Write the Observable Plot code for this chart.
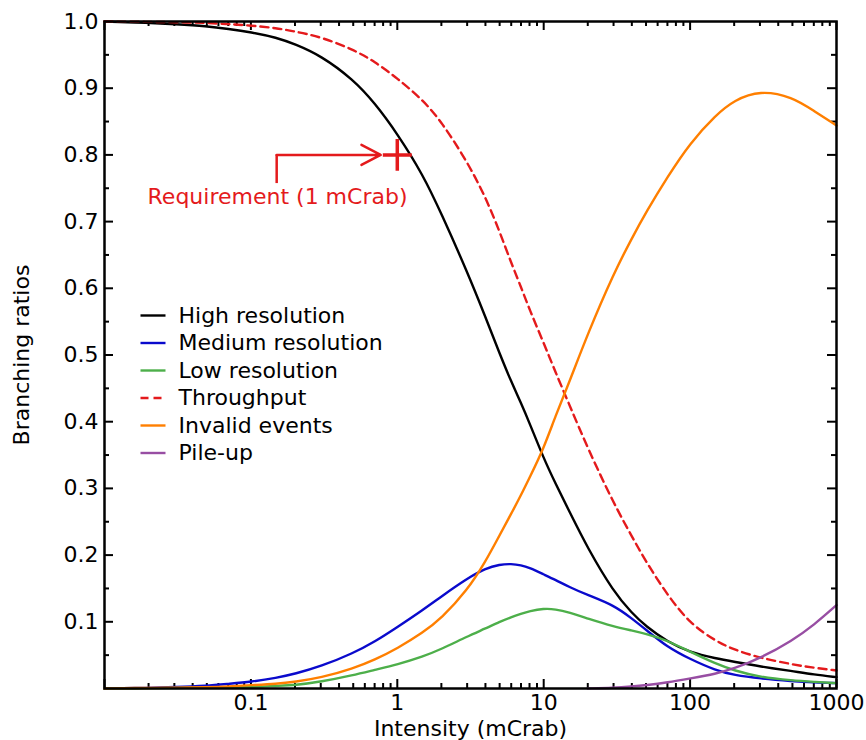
<!DOCTYPE html>
<html>
<head>
<meta charset="utf-8">
<script src="https://cdn.jsdelivr.net/npm/d3@7"></script>
<script src="https://cdn.jsdelivr.net/npm/@observablehq/plot@0.6"></script>
<style>
  body { margin: 0; background: #fff; }
  #chart svg { display: block; }
</style>
</head>
<body>
<div id="chart"></div>
<script>
// ---------------- data ----------------
const intensity = [0.01, 0.02, 0.03, 0.05, 0.07, 0.1, 0.15, 0.2, 0.3, 0.5, 0.7, 1, 1.5, 2, 3, 4, 5, 6, 7, 8,
  10, 12, 15, 20, 30, 40, 50, 70, 100, 150, 200, 300, 500, 700, 1000];

const highRes = [1.0, 0.998, 0.996, 0.993, 0.989, 0.984, 0.976, 0.966, 0.949, 0.913, 0.878, 0.832, 0.77, 0.712,
  0.625, 0.557, 0.502, 0.46, 0.428, 0.398, 0.345, 0.308, 0.265, 0.21, 0.145, 0.113, 0.093, 0.07, 0.054, 0.045,
  0.04, 0.033, 0.026, 0.021, 0.017];

const medRes = [0, 0.001, 0.002, 0.004, 0.007, 0.01, 0.016, 0.022, 0.033, 0.053, 0.07, 0.092, 0.118, 0.138,
  0.165, 0.18, 0.186, 0.187, 0.185, 0.181, 0.171, 0.163, 0.152, 0.14, 0.125, 0.105, 0.088, 0.062, 0.044,
  0.027, 0.02, 0.015, 0.011, 0.009, 0.008];

const lowRes = [0, 0, 0.001, 0.001, 0.002, 0.002, 0.004, 0.005, 0.01, 0.02, 0.028, 0.036, 0.048, 0.059,
  0.078, 0.09, 0.1, 0.107, 0.112, 0.116, 0.12, 0.119, 0.114, 0.105, 0.093, 0.087, 0.082, 0.072, 0.055,
  0.037, 0.027, 0.017, 0.012, 0.01, 0.008];

const throughput = [1.0, 0.9995, 0.999, 0.998, 0.996, 0.994, 0.99, 0.985, 0.977, 0.958, 0.94, 0.915, 0.882,
  0.85, 0.79, 0.737, 0.685, 0.638, 0.602, 0.568, 0.518, 0.475, 0.425, 0.36, 0.278, 0.228, 0.19, 0.14, 0.097,
  0.071, 0.058, 0.046, 0.036, 0.031, 0.027];

const invalidEvents = [0, 0.001, 0.001, 0.002, 0.003, 0.005, 0.007, 0.01, 0.016, 0.03, 0.043, 0.06, 0.084,
  0.105, 0.147, 0.19, 0.23, 0.262, 0.29, 0.316, 0.36, 0.408, 0.46, 0.532, 0.622, 0.675, 0.714, 0.767, 0.818,
  0.86, 0.882, 0.897, 0.887, 0.866, 0.844];

const pileUp = [null, null, null, null, null, null, null, null, null, null, null, null, null, null, null, null,
  null, null, null, null, null, null, null, 0, 0.001, 0.003, 0.005, 0.009, 0.015, 0.022, 0.03, 0.045, 0.072,
  0.095, 0.125];

const seriesNames = ["High resolution", "Medium resolution", "Low resolution", "Throughput", "Invalid events", "Pile-up"];
const seriesValues = [highRes, medRes, lowRes, throughput, invalidEvents, pileUp];
const seriesColors = ["#000000", "#0a0acc", "#4daf4a", "#e41a1c", "#ff7f00", "#984ea3"];
const seriesDash = [null, null, null, "8,5", null, null];

const xTickLabels = [0.1, 1, 10, 100, 1000];
const yTickLabels = [0.1, 0.2, 0.3, 0.4, 0.5, 0.6, 0.7, 0.8, 0.9, 1.0];
const xMajorTicks = [0.01, 0.1, 1, 10, 100, 1000];
const xMinorTicks = [-2, -1, 0, 1, 2].flatMap(n => [2, 3, 4, 5, 6, 7, 8, 9].map(k => k * 10 ** n));
const yMajorTicks = [0.1, 0.2, 0.3, 0.4, 0.5, 0.6, 0.7, 0.8, 0.9];
const yMinorTicks = [0.05, 0.15, 0.25, 0.35, 0.45, 0.55, 0.65, 0.75, 0.85, 0.95];

// requirement annotation
const reqIntensity = [1];
const reqRatio = [0.8];
const reqLabel = "Requirement (1 mCrab)";
const reqArrowFrom = {x: 0.15, y: 0.757};
const reqArrowTo = {x: 0.77, y: 0.8};
const reqLabelPos = {x: 0.152, y: 0.737};

const xLabel = "Intensity (mCrab)";
const yLabel = "Branching ratios";

// ---------------- layout ----------------
const W = 866, H = 740;
const mL = 104, mR = 30, mT = 21, mB = 52;
const plotW = W - mL - mR, plotH = H - mT - mB;
const xDomain = [0.01, 1000];
const lx0 = Math.log10(xDomain[0]), lx1 = Math.log10(xDomain[1]);
const invX = px => 10 ** (lx0 + (px / plotW) * (lx1 - lx0));
const invY = py => 1 - py / plotH;
const red = "#e41a1c";

// long table
const table = [];
seriesNames.forEach((name, si) => {
  seriesValues[si].forEach((v, i) => {
    if (v != null) table.push({series: name, intensity: intensity[i], ratio: v});
  });
});

const legendRows = seriesNames.map((name, i) => ({
  name, color: seriesColors[i], dash: seriesDash[i],
  y: invY(294 + i * 27.5), x1: invX(36), x2: invX(61), xt: invX(74)
}));

const plusSymbol = {
  draw(ctx, size) {
    const r = Math.sqrt(size / Math.PI);
    ctx.moveTo(-r, 0); ctx.lineTo(r, 0);
    ctx.moveTo(0, -r * 1.1); ctx.lineTo(0, r * 1.1);
  }
};

const tickLen = 9, minorLen = 5;

const marks = [
  // ticks (inward, all four sides)
  Plot.ruleX(xMajorTicks, {insetTop: plotH - tickLen, stroke: "black", strokeWidth: 2}),
  Plot.ruleX(xMajorTicks, {insetBottom: plotH - tickLen, stroke: "black", strokeWidth: 2}),
  Plot.ruleX(xMinorTicks, {insetTop: plotH - minorLen, stroke: "black", strokeWidth: 2}),
  Plot.ruleX(xMinorTicks, {insetBottom: plotH - minorLen, stroke: "black", strokeWidth: 2}),
  Plot.ruleY(yMajorTicks, {insetRight: plotW - tickLen, stroke: "black", strokeWidth: 2}),
  Plot.ruleY(yMajorTicks, {insetLeft: plotW - tickLen, stroke: "black", strokeWidth: 2}),
  Plot.ruleY(yMinorTicks, {insetRight: plotW - minorLen, stroke: "black", strokeWidth: 2}),
  Plot.ruleY(yMinorTicks, {insetLeft: plotW - minorLen, stroke: "black", strokeWidth: 2}),
  // tick labels
  Plot.axisX({ticks: xTickLabels, tickSize: 0, tickPadding: 6, label: null, tickFormat: d => String(d)}),
  Plot.axisY({ticks: yTickLabels, tickSize: 0, tickPadding: 6, label: null, tickFormat: d => d.toFixed(1)}),
  // axis titles
  Plot.text([xLabel], {frameAnchor: "bottom", dy: 47, text: d => d, fill: "black"}),
  Plot.text([yLabel], {frameAnchor: "left", dx: -83, rotate: -90, textAnchor: "middle", lineAnchor: "middle",
    text: d => d, fill: "black"}),
  // series
  ...seriesNames.map((name, si) => Plot.line(table.filter(d => d.series === name), {
    x: "intensity", y: "ratio", stroke: seriesColors[si], strokeWidth: 2.4,
    strokeDasharray: seriesDash[si] ?? undefined, curve: "basis"
  })),
  // requirement annotation
  Plot.ruleX([reqArrowFrom], {x: "x", y1: reqArrowFrom.y, y2: reqArrowTo.y, stroke: red, strokeWidth: 2.5}),
  Plot.arrow([{}], {x1: reqArrowFrom.x, y1: reqArrowTo.y, x2: reqArrowTo.x, y2: reqArrowTo.y,
    stroke: red, strokeWidth: 2.5, headLength: 13, headAngle: 55}),
  Plot.dot(reqIntensity.map((x, i) => ({x, y: reqRatio[i]})), {x: "x", y: "y", symbol: plusSymbol, r: 14.5,
    fill: "none", stroke: red, strokeWidth: 3.5}),
  Plot.text([reqLabelPos], {x: "x", y: "y", text: () => reqLabel, fill: red}),
  // legend
  ...legendRows.map(row => Plot.link([row], {x1: "x1", x2: "x2", y1: "y", y2: "y",
    stroke: row.color, strokeWidth: 2.4, strokeDasharray: row.dash ?? undefined})),
  Plot.text(legendRows, {x: "xt", y: "y", text: "name", textAnchor: "start", fill: "black"}),
  // frame
  Plot.frame({stroke: "black", strokeWidth: 2.5})
];

const chart = Plot.plot({
  width: W, height: H,
  marginLeft: mL, marginRight: mR, marginTop: mT, marginBottom: mB,
  x: {type: "log", domain: xDomain},
  y: {domain: [0, 1]},
  style: {fontFamily: "'DejaVu Sans', sans-serif", fontSize: "22px", color: "black", background: "white", overflow: "visible"},
  marks
});
document.getElementById("chart").appendChild(chart);
</script>
</body>
</html>
